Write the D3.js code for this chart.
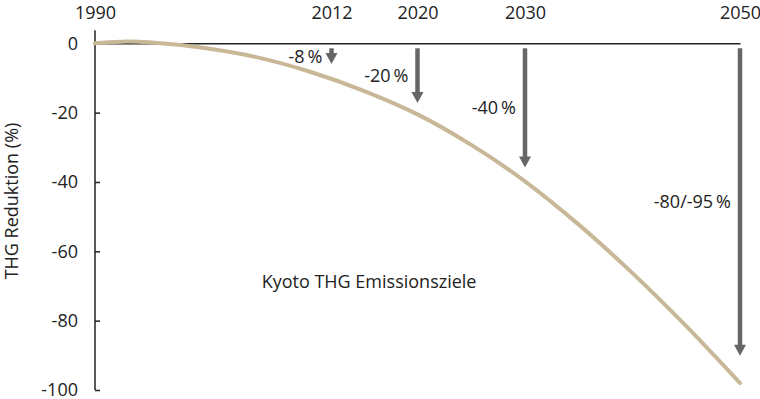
<!DOCTYPE html>
<html>
<head>
<meta charset="utf-8">
<script src="https://cdn.jsdelivr.net/npm/d3@7"></script>
<style>
  body { margin: 0; background: #fff; }
  svg text { font-family: "Open Sans", sans-serif; fill: #222; }
</style>
</head>
<body>
<div id="chart"></div>
<script>
// curve of the Kyoto THG targets (% change vs 1990)
const curveYears = [1990, 1993, 1995, 2000, 2005, 2010, 2015, 2020, 2025, 2030, 2035, 2040, 2045, 2050];
const curveValues = [0, 0.5, 0.3, -1.3, -4.0, -8.2, -13.7, -20.5, -29.3, -39.8, -52.3, -66.3, -81.6, -98];

// top year labels
const yearTicks = [1990, 2012, 2020, 2030, 2050];
const yTicks = [0, -20, -40, -60, -80, -100];

// arrows: year, depth of the tip, label
const arrowYears = [2012, 2020, 2030, 2050];
const arrowTips = [-6, -17.2, -35.8, -90.1];
const arrowLabels = ["-8\u2009%", "-20\u2009%", "-40\u2009%", "-80/-95\u2009%"];

const width = 760;
const height = 399;
const fontSize = '18px';

const svg = d3.select('#chart')
  .append('svg')
  .attr('width', width)
  .attr('height', height);

const x = d3.scaleLinear().domain([1990, 2050]).range([95, 740]);
const y = d3.scaleLinear().domain([-100, 0]).range([390, 43.3]);

// y axis (ticks point inwards)
const yAxis = svg.append('g')
  .attr('transform', 'translate(' + x(1990) + ',0)')
  .call(d3.axisLeft(y).tickValues(yTicks).tickFormat(d => String(d))
    .tickSizeInner(-5).tickSizeOuter(0).tickPadding(17));
yAxis.select('.domain').remove();
yAxis.selectAll('line').attr('stroke', '#222').attr('stroke-width', 1.5);
yAxis.selectAll('text').style('font-size', fontSize).style('font-family', '"Open Sans", sans-serif').attr('fill', '#222');
yAxis.append('line')
  .attr('x1', 0).attr('x2', 0)
  .attr('y1', y(0) - 13).attr('y2', y(-100))
  .attr('stroke', '#222').attr('stroke-width', 1.5);

// x axis along zero, labels on top
const xAxis = svg.append('g')
  .attr('transform', 'translate(0,' + y(0) + ')')
  .call(d3.axisTop(x).tickValues(yearTicks).tickFormat(d => String(d)).tickSize(0).tickPadding(24));
xAxis.select('.domain').attr('stroke', '#222').attr('stroke-width', 1.5);
xAxis.selectAll('text').style('font-size', fontSize).style('font-family', '"Open Sans", sans-serif').attr('fill', '#222');

// curve
const pts = curveYears.map((d, i) => [d, curveValues[i]]);
const line = d3.line()
  .x(d => x(d[0]))
  .y(d => y(d[1]))
  .curve(d3.curveCatmullRom);

svg.append('path')
  .datum(pts)
  .attr('d', line)
  .attr('fill', 'none')
  .attr('stroke', '#c8b898')
  .attr('stroke-width', 4)
  .attr('stroke-linecap', 'round');

// arrows
const headH = 11, headW = 6;
const arrowTop = y(0) + 5;
const arrows = svg.selectAll('g.arrow')
  .data(arrowYears)
  .enter()
  .append('g')
  .attr('class', 'arrow');

arrows.append('line')
  .attr('x1', d => x(d)).attr('x2', d => x(d))
  .attr('y1', arrowTop)
  .attr('y2', (d, i) => y(arrowTips[i]) - headH + 1)
  .attr('stroke', '#666')
  .attr('stroke-width', 4.5);

arrows.append('path')
  .attr('d', (d, i) => {
    const tx = x(d), ty = y(arrowTips[i]);
    return 'M' + (tx - headW) + ',' + (ty - headH) + 'L' + (tx + headW) + ',' + (ty - headH) + 'L' + tx + ',' + ty + 'Z';
  })
  .attr('fill', '#666');

arrows.append('text')
  .text((d, i) => arrowLabels[i])
  .attr('x', d => x(d) - 9)
  .attr('y', (d, i) => (arrowTop + y(arrowTips[i])) / 2)
  .attr('dy', '0.35em')
  .style('text-anchor', 'end')
  .style('font-size', fontSize);

// inner label
svg.append('text')
  .text('Kyoto THG Emissionsziele')
  .attr('x', x(2005.5))
  .attr('y', y(-68.9))
  .attr('dy', '0.35em')
  .style('font-size', fontSize);

// y axis title
svg.append('text')
  .text('THG Reduktion (%)')
  .attr('transform', 'translate(12,' + 201 + ') rotate(-90)')
  .attr('dy', '0.35em')
  .style('text-anchor', 'middle')
  .style('font-size', fontSize);
</script>
</body>
</html>
